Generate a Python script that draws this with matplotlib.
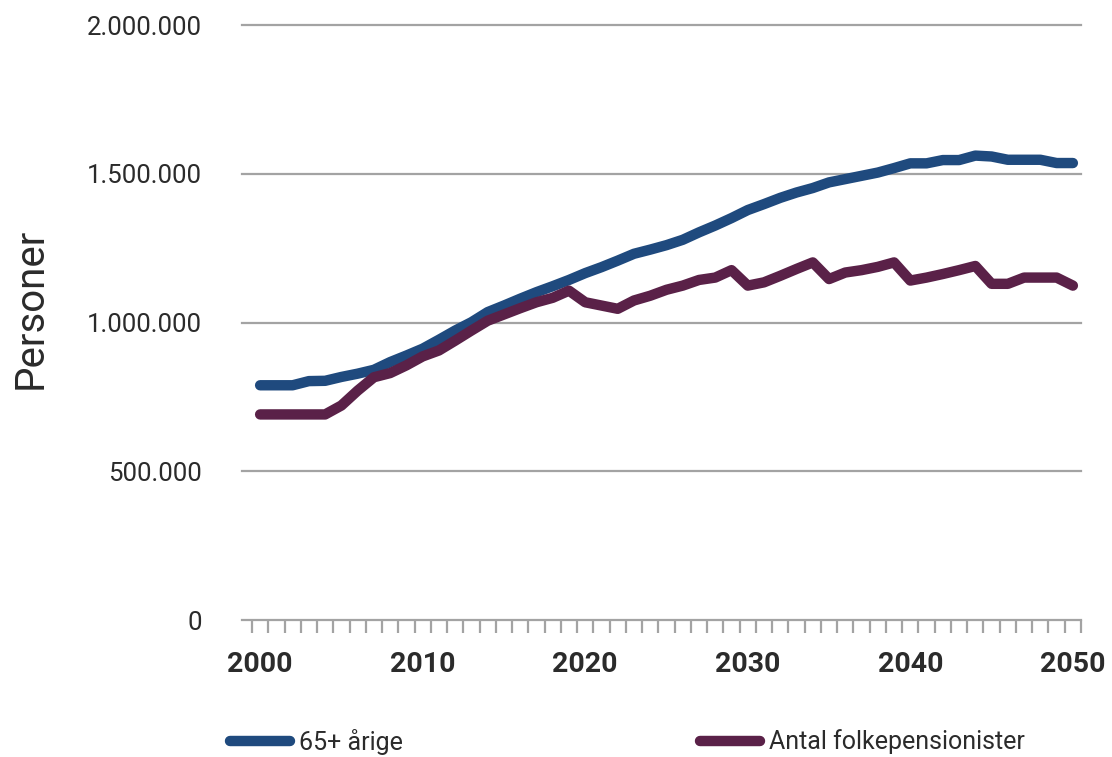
import matplotlib
matplotlib.use("Agg")
import matplotlib.pyplot as plt
import numpy as np

years = list(range(2000, 2051))

# 65+ year olds
aged_65 = [789, 789, 789, 803, 804, 817, 828, 841, 867, 889,
           912, 942, 973, 1001, 1035, 1057, 1080, 1102, 1122, 1143,
           1166, 1186, 1208, 1231, 1245, 1260, 1278, 1303, 1326, 1351,
           1378, 1398, 1419, 1437, 1452, 1471, 1482, 1493, 1504, 1519,
           1535, 1535, 1546, 1546, 1561, 1558, 1547, 1547, 1547, 1536,
           1536]

# number of state pensioners
pensioners = [691, 691, 691, 691, 691, 721, 771, 816, 830, 856,
              886, 906, 939, 973, 1006, 1027, 1048, 1068, 1083, 1107,
              1068, 1057, 1046, 1074, 1090, 1110, 1124, 1143, 1151, 1176,
              1124, 1135, 1157, 1180, 1202, 1146, 1168, 1176, 1187, 1202,
              1141, 1151, 1163, 1176, 1190, 1130, 1130, 1151, 1151, 1151,
              1124]

aged_65 = np.array(aged_65) * 1000
pensioners = np.array(pensioners) * 1000

y_ticks = [0, 500000, 1000000, 1500000, 2000000]
y_labels = ["0", "500.000", "1.000.000", "1.500.000", "2.000.000"]
x_labels = [2000, 2010, 2020, 2030, 2040, 2050]

blue = "#1f4a7e"
purple = "#5a2148"
grid_col = "#a3a3a3"
text_col = "#2b2b2b"

plt.rcParams['font.family'] = ['Roboto', 'DejaVu Sans']

fig = plt.figure(figsize=(11.12, 7.57), dpi=100)
ax = fig.add_axes([252 / 1112, 1 - 620 / 757, (1081 - 252) / 1112, (620 - 25) / 757])

# grid lines, slightly extended to the left like the original
for y in y_ticks:
    ax.axhline(y, xmin=-0.012, xmax=1, color=grid_col, lw=1.6, clip_on=False, zorder=1)

l1, = ax.plot(years, aged_65, color=blue, lw=7.5, solid_capstyle='round',
              solid_joinstyle='round', zorder=3)
l2, = ax.plot(years, pensioners, color=purple, lw=7.5, solid_capstyle='round',
              solid_joinstyle='round', zorder=3)

ax.set_xlim(1999.5, 2050.5)
ax.set_ylim(0, 2000000)

for s in ax.spines.values():
    s.set_visible(False)

# year boundaries as tick marks, decade labels as minor ticks
ax.set_xticks(np.arange(1999.5, 2051, 1.0))
ax.set_xticklabels([])
ax.tick_params(axis='x', which='major', length=9, width=1.6, color=grid_col, direction='out')
ax.set_xticks(x_labels, minor=True)
ax.set_xticklabels([str(x) for x in x_labels], minor=True, fontsize=20.5,
                   fontweight='bold', color=text_col)
ax.tick_params(axis='x', which='minor', length=0, pad=22)

ax.set_yticks(y_ticks)
ax.set_yticklabels(y_labels, fontsize=18.5, color=text_col)
ax.tick_params(axis='y', length=0, pad=36)

fig.text(30 / 1112, 1 - 308 / 757, "Personer", rotation=90, fontsize=29,
         color=text_col, va='center', ha='center')

leg_y = 1 - 742 / 757
fig.legend([l1], ["65+ årige"], loc='center left', bbox_to_anchor=(230 / 1112, leg_y),
           frameon=False, fontsize=18, handlelength=2.4, handletextpad=0.35,
           borderpad=0, borderaxespad=0, labelcolor=text_col)
fig.legend([l2], ["Antal folkepensionister"], loc='center left',
           bbox_to_anchor=(700 / 1112, leg_y), frameon=False, fontsize=18,
           handlelength=2.4, handletextpad=0.35, borderpad=0, borderaxespad=0,
           labelcolor=text_col)

fig.savefig("out.png", dpi=100)
